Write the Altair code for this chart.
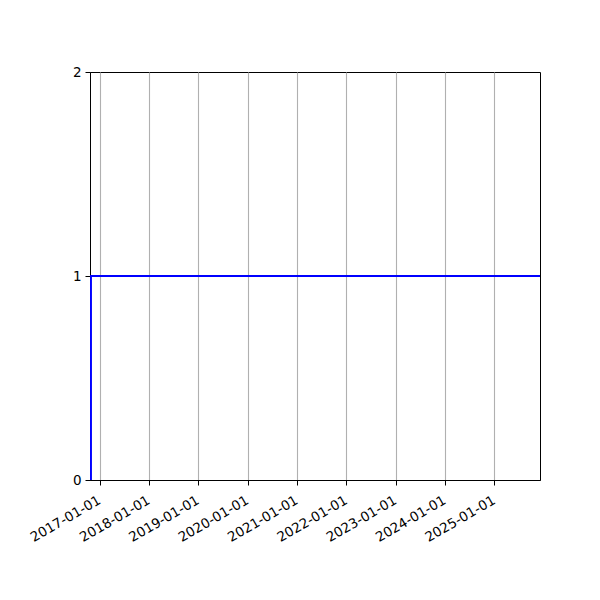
import altair as alt
import pandas as pd

dates = ["2016-10-28", "2016-10-28", "2025-12-05"]
values = [0, 1, 1]
order = [0, 1, 2]
tick_years = [2017, 2018, 2019, 2020, 2021, 2022, 2023, 2024, 2025]
y_ticks = [0, 1, 2]

df = pd.DataFrame({"date": dates, "value": values, "order": order})

tick_values = [alt.DateTime(year=y, month=1, date=1, utc=True) for y in tick_years]

chart = alt.Chart(df).mark_line(color="#0000ff", strokeWidth=2, clip=True).encode(
    x=alt.X(
        "date:T",
        scale=alt.Scale(type="utc", domain=[alt.DateTime(year=2016, month=10, date=21, utc=True),
                                            alt.DateTime(year=2025, month=12, date=5, utc=True)]),
        axis=alt.Axis(
            values=tick_values,
            labelExpr="utcFormat(datum.value, '%Y-%m-%d')",
            labelAngle=-30,
            labelAlign="right",
            labelBaseline="top",
            labelOverlap=False,
            labelFlush=False,
            labelOffset=-4,
            grid=True,
            gridColor="#b0b0b0",
            gridWidth=1.1,
            title=None,
            tickColor="black",
            tickSize=5,
            domainColor="black",
            labelColor="black",
            labelFont="DejaVu Sans",
            labelFontSize=13.5,
            labelPadding=8,
        ),
    ),
    y=alt.Y(
        "value:Q",
        scale=alt.Scale(domain=[0, 2], nice=False, zero=False),
        axis=alt.Axis(
            values=y_ticks,
            labelExpr="format(datum.value, 'd')",
            labelOverlap=False,
            labelFlush=False,
            grid=False,
            title=None,
            tickColor="black",
            tickSize=5,
            domainColor="black",
            labelColor="black",
            labelFont="DejaVu Sans",
            labelFontSize=13.5,
            labelPadding=4,
        ),
    ),
    order="order:Q",
).properties(
    width=450,
    height=408,
    padding={"left": 82, "top": 64, "right": 52, "bottom": 112},
    autosize="none",
    background="white",
).configure_view(
    stroke="black", strokeWidth=1
)

chart.save("out.html", embed_options={"renderer": "svg", "actions": False})
